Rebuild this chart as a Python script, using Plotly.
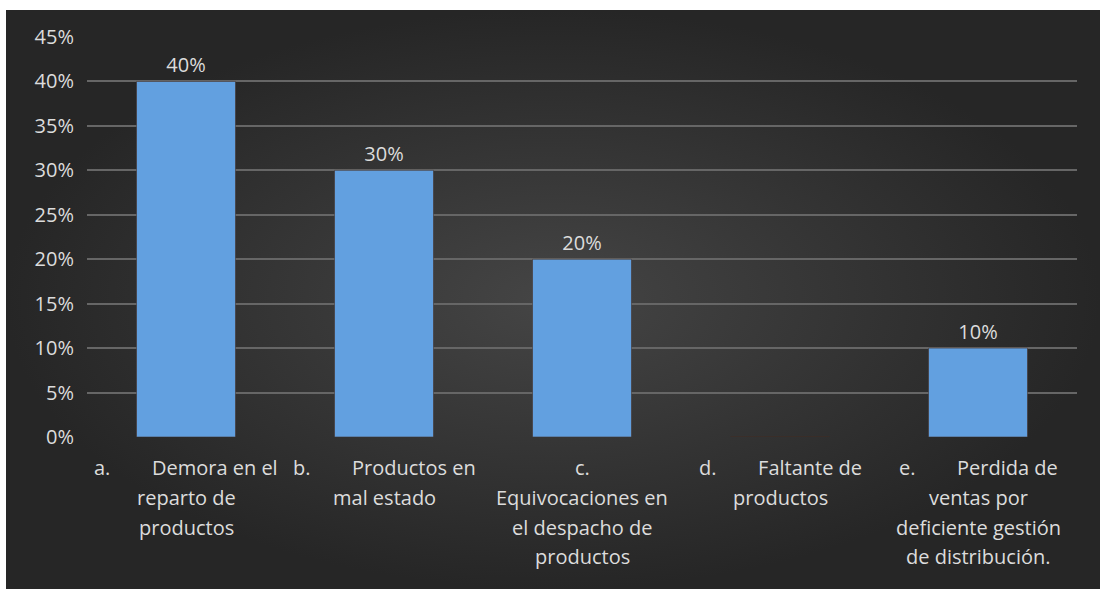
import plotly.graph_objects as go

TAB = "\u00a0" * 8

# Category labels (one entry per bar, lines separated by <br>)
categories = [
    f"a.{TAB}Demora en el<br>reparto de<br>productos",
    f"b.{TAB}Productos en<br>mal estado",
    "c.<br>Equivocaciones en<br>el despacho de<br>productos",
    f"d.{TAB}Faltante de<br>productos",
    f"e.{TAB}Perdida de<br>ventas por<br>deficiente gestión<br>de distribución.",
]
values = [0.40, 0.30, 0.20, 0.0, 0.10]
y_ticks = [0, 0.05, 0.10, 0.15, 0.20, 0.25, 0.30, 0.35, 0.40, 0.45]

W, H = 1100, 589
TEXT = "#dcdcdc"
FONT = "Open Sans"
FS = 20

fig = go.Figure()

# Dark radial-gradient panel behind the chart
fig.add_trace(go.Scatter(
    x=[6 / W, 1, 1, 6 / W, 6 / W], y=[0, 0, 1 - 10 / H, 1 - 10 / H, 0],
    mode="lines", fill="toself", line=dict(width=0),
    fillgradient=dict(type="radial", colorscale=[[0, "#454545"], [1, "#262626"]]),
    hoverinfo="skip", showlegend=False, xaxis="x", yaxis="y",
))

# Bars
fig.add_trace(go.Bar(
    x=list(range(len(categories))), y=values,
    marker=dict(color="#62a0e0", line=dict(color="rgba(70,45,35,0.55)", width=1)),
    text=[f"{v:.0%}" if v else "" for v in values],
    textposition="outside", textfont=dict(color=TEXT, size=FS, family=FONT),
    cliponaxis=False, showlegend=False, xaxis="x2", yaxis="y2",
))

x0, x1 = 87 / W, 1077 / W
y0, y1 = 1 - 437 / H, 1 - 37 / H

fig.update_layout(
    template="none",
    width=W, height=H, autosize=False,
    margin=dict(l=0, r=0, t=0, b=0, pad=0),
    paper_bgcolor="white", plot_bgcolor="rgba(0,0,0,0)",
    bargap=0.5,
    font=dict(family=FONT, color=TEXT, size=FS),
    xaxis=dict(domain=[0, 1], range=[0, 1], visible=False, fixedrange=True,
               automargin=False),
    yaxis=dict(domain=[0, 1], range=[0, 1], visible=False, fixedrange=True,
               automargin=False),
    xaxis2=dict(domain=[x0, x1], anchor="y2", range=[-0.5, len(categories) - 0.5],
                showgrid=False, zeroline=False, showticklabels=False, ticks="",
                showline=False, automargin=False),
    yaxis2=dict(domain=[y0, y1], anchor="x2", range=[0, 0.45],
                tickvals=y_ticks, tickformat=".0%",
                showgrid=True, gridcolor="#666666", gridwidth=1.5,
                zeroline=True, zerolinecolor="rgba(0,0,0,0)",
                ticks="", ticklabelstandoff=12, showline=False, automargin=False,
                tickfont=dict(color=TEXT, size=FS, family=FONT)),
)

# Multi-line category labels below the axis
line_pitch = 29.5
first_line_y = 468
annotations = []
for i, label in enumerate(categories):
    for j, line in enumerate(label.split("<br>")):
        annotations.append(dict(
            x=i, xref="x2", y=1 - (first_line_y + j * line_pitch) / H, yref="paper",
            text=line, showarrow=False, xanchor="center", yanchor="middle",
            font=dict(color=TEXT, size=FS, family=FONT),
        ))
fig.update_layout(annotations=annotations)

fig.write_html("out.html")
